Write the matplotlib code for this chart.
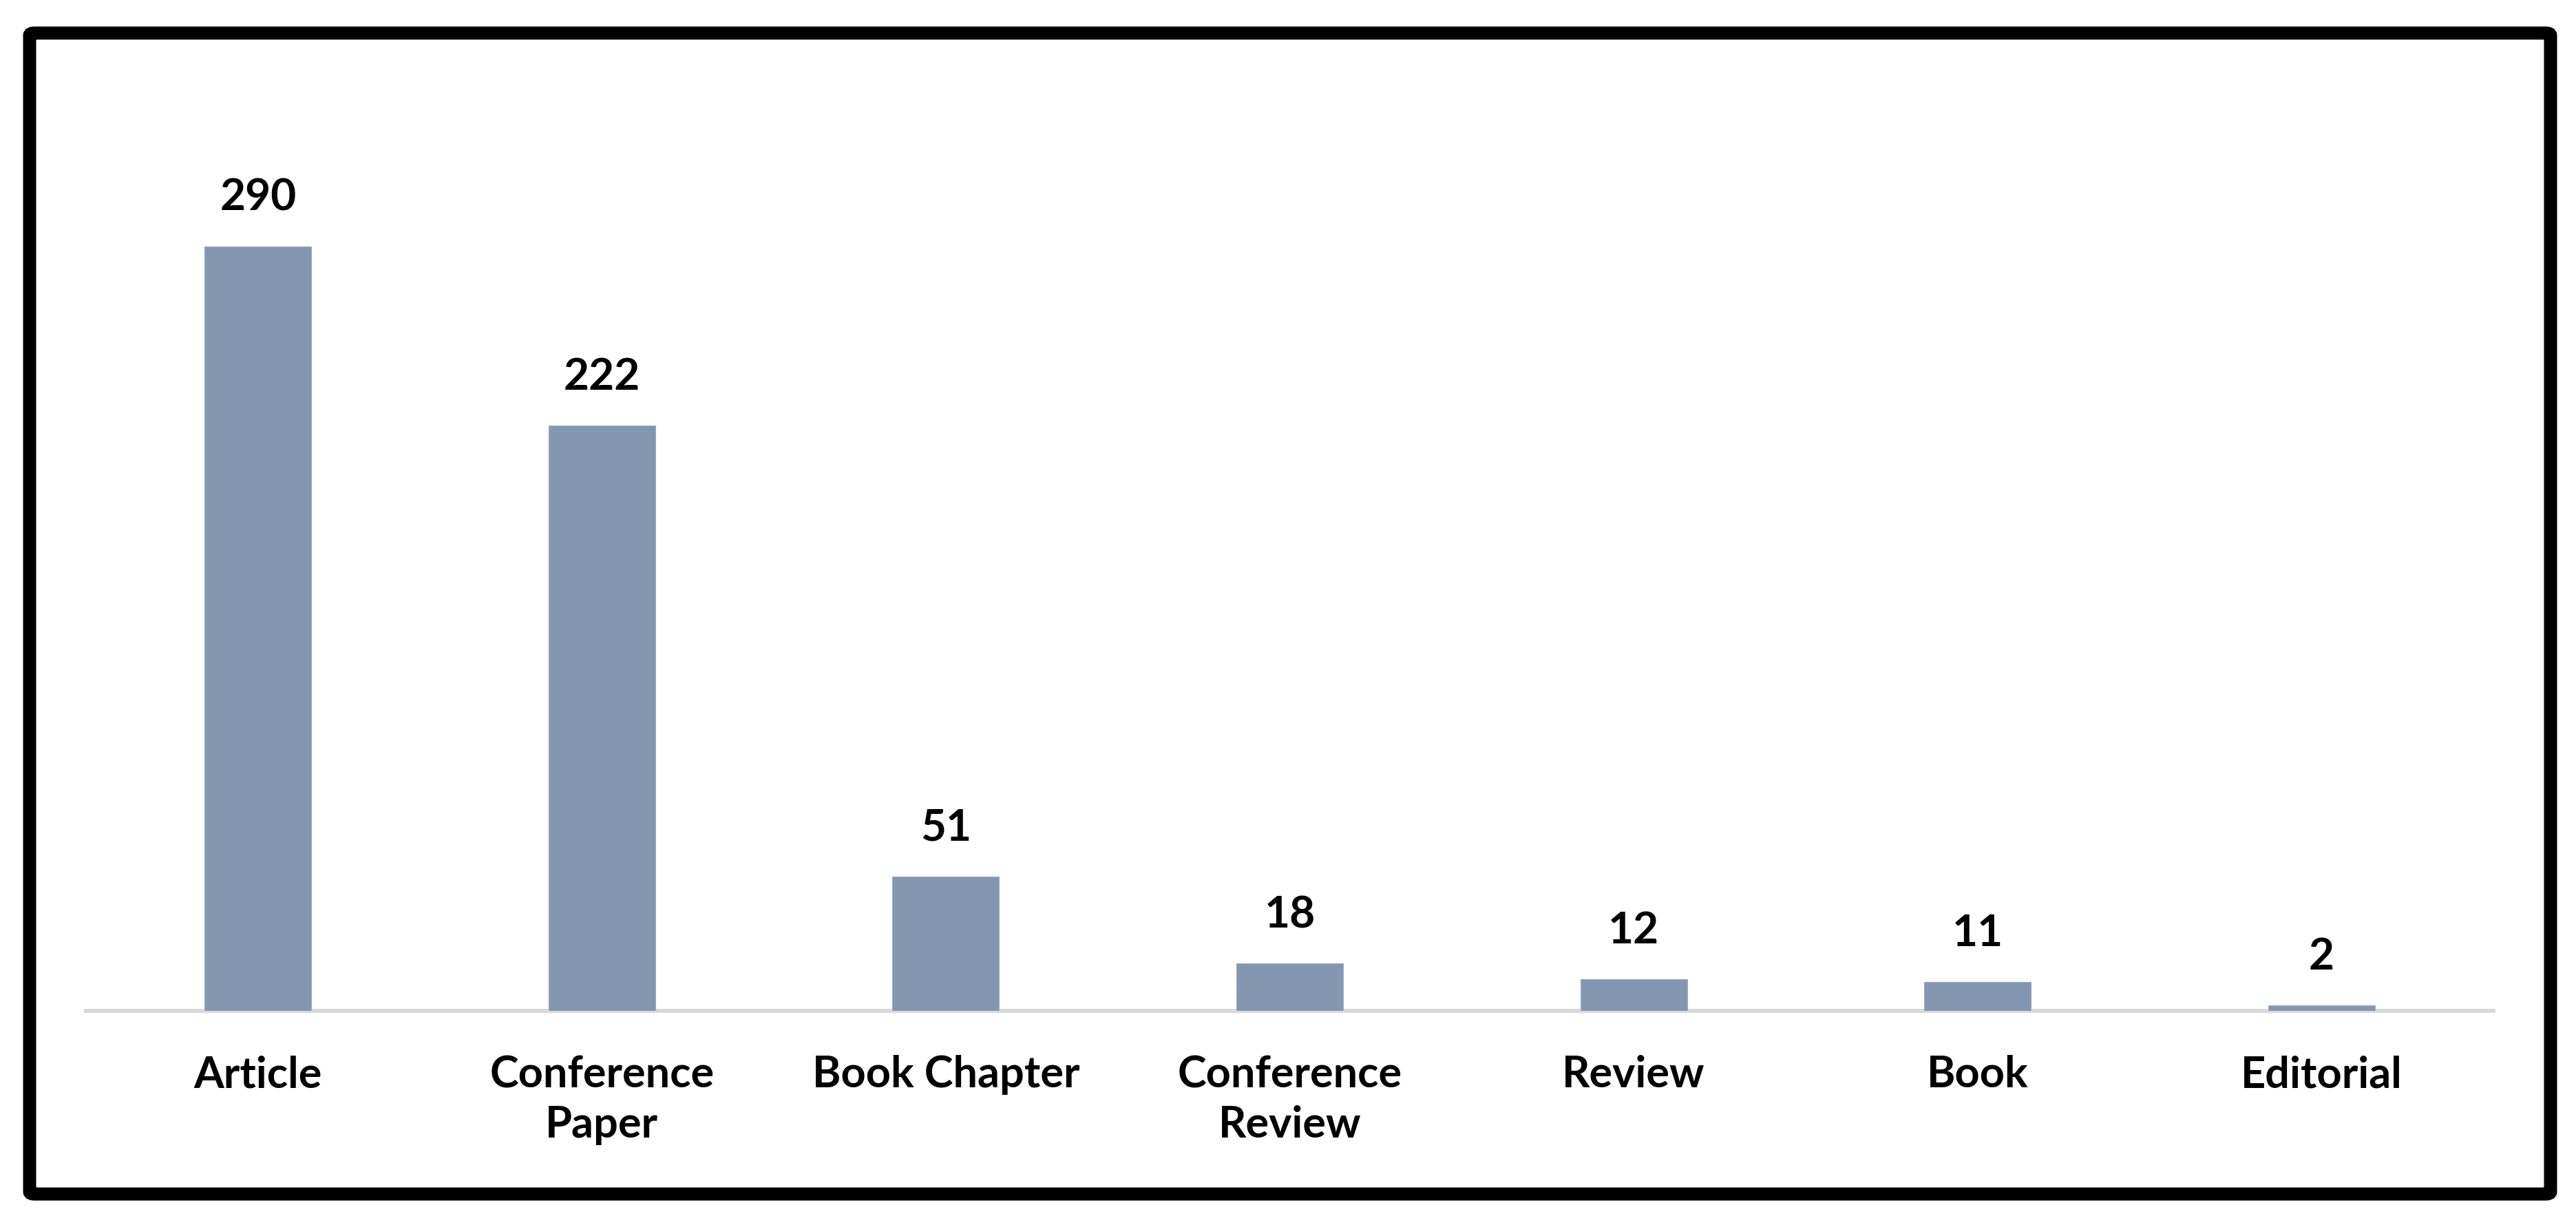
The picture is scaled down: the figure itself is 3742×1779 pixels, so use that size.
import matplotlib.pyplot as plt
import matplotlib.patches as patches
import numpy as np

categories = ["Article", "Conference\nPaper", "Book Chapter", "Conference\nReview",
              "Review", "Book", "Editorial"]
counts = [290, 222, 51, 18, 12, 11, 2]

W, H = 3742, 1779
DPI = 100
PX = 72.0 / DPI  # points per pixel

plt.rcParams["font.family"] = ["Lato", "DejaVu Sans"]
fig = plt.figure(figsize=(W / DPI, H / DPI), dpi=DPI)
fig.patch.set_facecolor("white")

# axes placed so the baseline sits at y=1468 px and the category band spans 125..3622 px
x0, x1 = 125, 3622
y_base, y_top = 1468, 100
ax = fig.add_axes([x0 / W, (H - y_base) / H, (x1 - x0) / W, (y_base - y_top) / H])
px_per_unit = 3.828
ax.set_ylim(0, (y_base - y_top) / px_per_unit)
ax.set_xlim(-0.5, len(categories) - 0.5)

x = np.arange(len(categories))
ax.bar(x, counts, width=0.31, color="#8497B0", edgecolor="#9aabc2", linewidth=0.8, zorder=2)

for s in ["top", "right", "left"]:
    ax.spines[s].set_visible(False)
ax.spines["bottom"].set_color("#D9D9D9")
ax.spines["bottom"].set_linewidth(6 * PX)
ax.spines["bottom"].set_zorder(1)
ax.set_xticks([])
ax.set_yticks([])

for xi, v in zip(x, counts):
    ax.annotate(str(v), xy=(xi, v), xytext=(0, 52 * PX), textcoords="offset points",
                ha="center", va="baseline", fontsize=64 * PX, fontweight="bold", color="black")

for xi, lab in zip(x, categories):
    ax.annotate(lab, xy=(xi, 0), xycoords=("data", "axes fraction"),
                xytext=(0, -64 * PX), textcoords="offset points",
                ha="center", va="top", fontsize=63 * PX, fontweight="bold",
                color="black", linespacing=1.32)

# black frame around the whole chart
frame = patches.FancyBboxPatch((43 / W, (H - 1734) / H), (3705 - 43) / W, (1734 - 48) / H,
                               boxstyle="round,pad=0,rounding_size=0.002",
                               transform=fig.transFigure, fill=False,
                               edgecolor="black", linewidth=19 * PX)
fig.patches.append(frame)

fig.savefig("out.png", dpi=DPI)
